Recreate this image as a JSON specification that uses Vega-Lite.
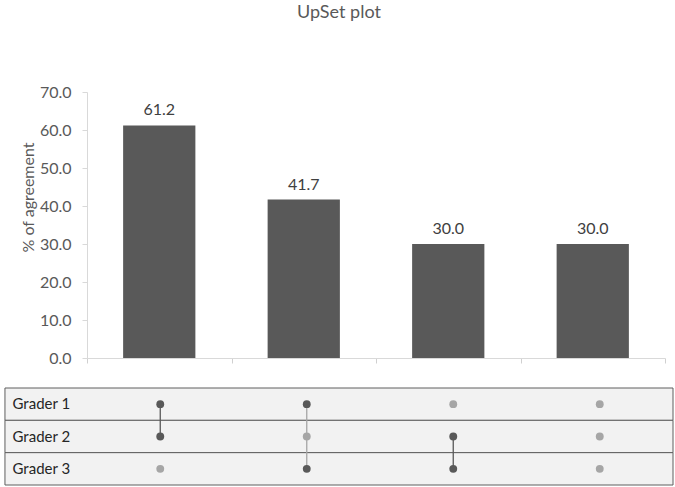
{
  "$schema": "https://vega.github.io/schema/vega-lite/v6.json",
  "padding": {"left": 4, "top": 4, "right": 3, "bottom": 1},
  "background": "white",
  "title": {"text": "UpSet plot", "fontSize": 18, "font": "Lato", "fontWeight": "normal", "color": "#595959", "anchor": "middle", "offset": 62},
  "config": {"view": {"stroke": null}, "font": "Lato"},
  "spacing": 21,
  "datasets": {
    "bars": [
      {"set": "Grader 1 & 2", "pct": 61.2},
      {"set": "Grader 1 & 3", "pct": 41.7},
      {"set": "Grader 2 & 3", "pct": 30.0},
      {"set": "All graders", "pct": 30.0}
    ],
    "graders": [
      {"grader": "Grader 1"},
      {"grader": "Grader 2"},
      {"grader": "Grader 3"}
    ],
    "matrix": [
      {"col": 1, "grader": "Grader 1", "status": "in"},
      {"col": 1, "grader": "Grader 2", "status": "in"},
      {"col": 1, "grader": "Grader 3", "status": "out"},
      {"col": 2, "grader": "Grader 1", "status": "in"},
      {"col": 2, "grader": "Grader 2", "status": "out"},
      {"col": 2, "grader": "Grader 3", "status": "in"},
      {"col": 3, "grader": "Grader 1", "status": "out"},
      {"col": 3, "grader": "Grader 2", "status": "in"},
      {"col": 3, "grader": "Grader 3", "status": "in"},
      {"col": 4, "grader": "Grader 1", "status": "out"},
      {"col": 4, "grader": "Grader 2", "status": "out"},
      {"col": 4, "grader": "Grader 3", "status": "out"}
    ],
    "links": [
      {"col": 1, "from": "Grader 1", "to": "Grader 2", "status": "in"},
      {"col": 2, "from": "Grader 1", "to": "Grader 3", "status": "out"},
      {"col": 3, "from": "Grader 2", "to": "Grader 3", "status": "in"}
    ]
  },
  "vconcat": [
    {
      "width": 578,
      "height": 266,
      "data": {"name": "bars"},
      "encoding": {
        "x": {
          "field": "set", "type": "nominal", "sort": null,
          "scale": {"paddingInner": 0, "paddingOuter": 0},
          "axis": {"labels": false, "title": null, "domainColor": "#d9d9d9", "tickColor": "#d0d0d0", "tickSize": 5, "tickBand": "extent"}
        },
        "y": {
          "field": "pct", "type": "quantitative",
          "scale": {"domain": [0, 70]},
          "axis": {
            "values": [0, 10, 20, 30, 40, 50, 60, 70], "format": ".1f", "grid": false,
            "domainColor": "#d9d9d9", "tickColor": "#d9d9d9", "tickSize": 5,
            "labelPadding": 11, "labelFontSize": 16, "labelColor": "#595959",
            "minExtent": 46, "maxExtent": 46,
            "title": ["", "% of agreement"], "titleLineHeight": 15, "titleFontSize": 16,
            "titleFontWeight": "normal", "titleColor": "#595959", "titlePadding": 5, "titleY": 105
          }
        }
      },
      "layer": [
        {"mark": {"type": "bar", "color": "#595959", "width": {"band": 0.5}}},
        {"mark": {"type": "text", "dy": -15, "fontSize": 16, "color": "#404040"}, "encoding": {"text": {"field": "pct", "type": "quantitative", "format": ".1f"}}}
      ]
    },
    {
      "width": 586,
      "height": 97,
      "encoding": {
        "y": {
          "field": "grader", "type": "nominal", "sort": null,
          "scale": {"paddingInner": 0, "paddingOuter": 0},
          "axis": {"title": null, "domain": false, "ticks": false, "tickSize": 0, "labelAlign": "left", "labelPadding": 75, "labelFontSize": 15, "labelColor": "#262626", "minExtent": 0}
        }
      },
      "layer": [
        {
          "data": {"name": "graders"},
          "mark": {"type": "rect", "fill": "#f2f2f2", "stroke": "#5f5f5f", "strokeWidth": 1},
          "encoding": {
            "x": {"datum": -0.06, "type": "quantitative", "scale": {"domain": [0.5, 4.5]}, "axis": null},
            "x2": {"datum": 4.5}
          }
        },
        {
          "data": {"name": "links"},
          "mark": {"type": "rule", "strokeWidth": 1.3},
          "encoding": {
            "x": {"field": "col", "type": "quantitative"},
            "y": {"field": "from", "type": "nominal"},
            "y2": {"field": "to"},
            "color": {"field": "status", "type": "nominal", "scale": {"domain": ["in", "out"], "range": ["#595959", "#a6a6a6"]}, "legend": null}
          }
        },
        {
          "data": {"name": "matrix"},
          "mark": {"type": "point", "filled": true, "opacity": 1, "size": 62},
          "encoding": {
            "x": {"field": "col", "type": "quantitative"},
            "y": {"field": "grader", "type": "nominal"},
            "color": {"field": "status", "type": "nominal", "legend": null}
          }
        }
      ]
    }
  ]
}
